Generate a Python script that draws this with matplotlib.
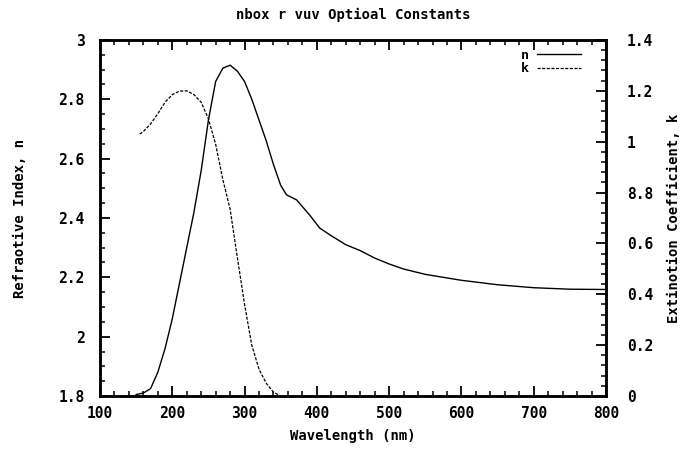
import matplotlib
matplotlib.use("Agg")
import matplotlib.pyplot as plt
from matplotlib.ticker import MultipleLocator

# refractive index n
n_wl = [150, 160, 170, 180, 190, 200, 210, 220, 230, 240, 250, 260, 270, 280,
        290, 300, 310, 320, 330, 340, 350, 358, 372, 390, 404, 420, 440, 460,
        480, 500, 520, 550, 600, 650, 700, 750, 800]
n_val = [1.805, 1.81, 1.825, 1.88, 1.96, 2.06, 2.18, 2.30, 2.42, 2.56, 2.73,
         2.86, 2.905, 2.915, 2.895, 2.86, 2.80, 2.73, 2.66, 2.58, 2.51, 2.478,
         2.461, 2.41, 2.366, 2.34, 2.31, 2.29, 2.265, 2.245, 2.228, 2.21, 2.19,
         2.175, 2.165, 2.16, 2.159]

# extinction coefficient k
k_wl = [155, 160, 170, 180, 190, 200, 210, 220, 230, 240, 250, 260, 270, 280,
        290, 300, 310, 320, 330, 340, 350]
k_val = [1.03, 1.04, 1.07, 1.11, 1.155, 1.185, 1.199, 1.2, 1.185, 1.155, 1.09,
         0.99, 0.85, 0.735, 0.545, 0.36, 0.2, 0.105, 0.05, 0.015, 0.0]

n_ticks = [1.8, 2.0, 2.2, 2.4, 2.6, 2.8, 3.0]
n_ticklabels = ["1.8", "2", "2.2", "2.4", "2.6", "2.8", "3"]
k_ticks = [0, 0.2, 0.4, 0.6, 0.8, 1.0, 1.2, 1.4]
k_ticklabels = ["0", "0.2", "0.4", "0.6", "8.8", "1", "1.2", "1.4"]
x_ticks = [100, 200, 300, 400, 500, 600, 700, 800]

plt.rcParams['font.family'] = ['DejaVu Sans Mono']
plt.rcParams['font.weight'] = 'bold'
plt.rcParams['axes.labelweight'] = 'bold'
plt.rcParams['axes.titleweight'] = 'bold'
plt.rcParams['font.size'] = 10.5

fig = plt.figure(figsize=(6.82, 4.49), dpi=100)
ax = fig.add_axes([0.1466, 0.118, 0.742, 0.793])
ax2 = ax.twinx()

ln_n, = ax.plot(n_wl, n_val, color='black', lw=1.0, label='n')
ln_k, = ax2.plot(k_wl, k_val, color='black', lw=0.9, linestyle=(0, (2.5, 1.2)), label='k')

ax.set_xlim(100, 800)
ax.set_ylim(1.8, 3.0)
ax2.set_ylim(0, 1.4)

ax.set_xticks(x_ticks)
ax.set_xticklabels([str(v) for v in x_ticks])
ax.xaxis.set_minor_locator(MultipleLocator(20))
ax.set_yticks(n_ticks)
ax.set_yticklabels(n_ticklabels)
ax.yaxis.set_minor_locator(MultipleLocator(0.05))
ax2.set_yticks(k_ticks)
ax2.set_yticklabels(k_ticklabels)
ax2.yaxis.set_minor_locator(MultipleLocator(0.04))

ax.tick_params(axis='x', which='both', direction='in', top=True, pad=7)
ax.tick_params(axis='y', which='both', direction='in', right=False, pad=11)
ax.tick_params(which='major', length=7, width=1.3)
ax.tick_params(which='minor', length=3.5, width=1.1)
ax2.tick_params(axis='y', which='both', direction='in', pad=15)
ax2.tick_params(which='major', length=7, width=1.3)
ax2.tick_params(which='minor', length=3.5, width=1.1)

for a in (ax, ax2):
    for s in a.spines.values():
        s.set_linewidth(1.8)

ax.set_xlabel('Wavelength (nm)', labelpad=6, fontsize=10)
ax.set_ylabel('Refraotive Index, n', labelpad=23, fontsize=10)
ax2.set_ylabel('Extinotion Coefficient, k', labelpad=10, fontsize=10)
ax.set_title('nbox r vuv Optioal Constants', pad=15, fontsize=10)

ax.legend(handles=[ln_n, ln_k], loc='upper right', frameon=False,
          markerfirst=False, handlelength=3.3, handletextpad=0.6, fontsize=9.5,
          bbox_to_anchor=(0.96, 0.99), borderaxespad=0.0, labelspacing=0.05)

fig.savefig('out.png', dpi=100)
